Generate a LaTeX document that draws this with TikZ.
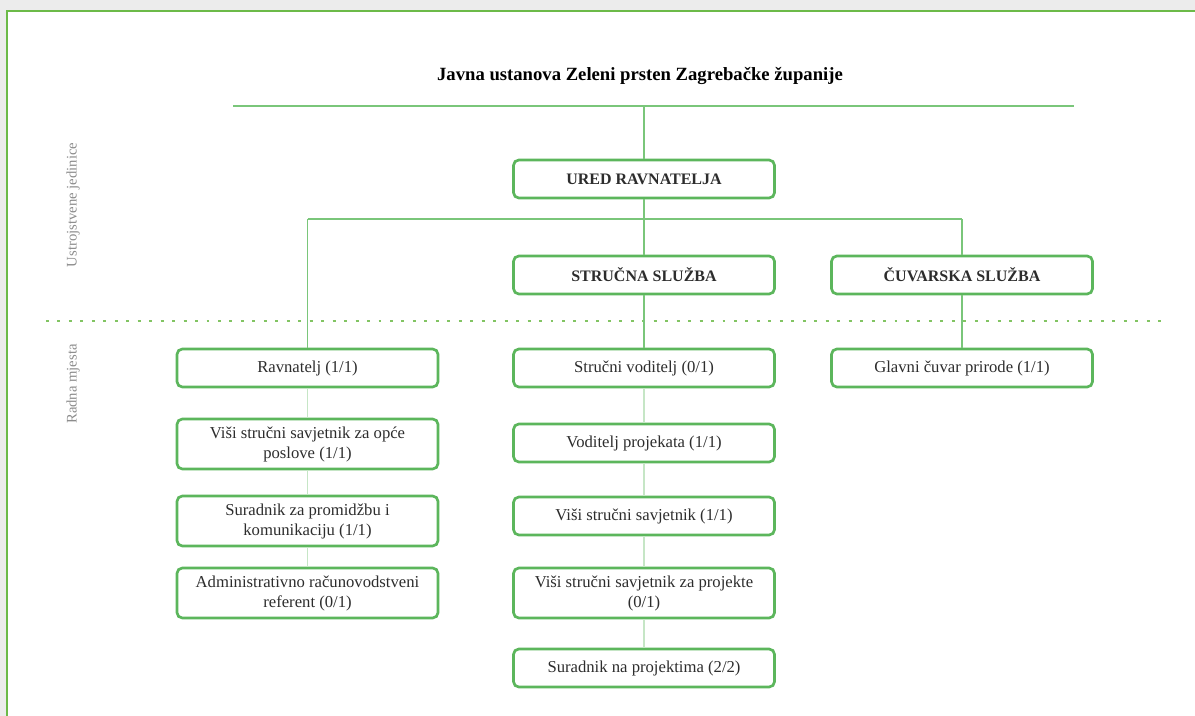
\documentclass[tikz,border=0pt]{standalone}
\usepackage{fontspec}
\setmainfont{Liberation Serif}

\definecolor{framegreen}{RGB}{108,186,72}
\definecolor{boxgreen}{RGB}{92,182,92}
\definecolor{linegreen}{RGB}{122,198,122}
\definecolor{palegreen}{RGB}{198,230,198}
\definecolor{labelgray}{RGB}{140,140,140}
\definecolor{bggray}{RGB}{236,236,236}
\definecolor{textgray}{RGB}{45,45,45}

\newcommand*\unitwidth{195.75pt}
\newcommand*\rowheight{28.5pt}
\tikzset{orgunit/.style={
    draw=boxgreen,
    line width=2pt,
    rectangle,
    rounded corners=4pt,
    fill=white,
    text=textgray,
    inner sep=0pt,
    minimum width=\unitwidth,
    minimum height=\rowheight,
    align=center,
    font=\fontsize{12}{15}\selectfont\bfseries
},
jobpost/.style={
    orgunit,
    minimum height=#1,
    font=\fontsize{12.5}{15}\selectfont
},
jobpost/.default=\rowheight,
busline/.style={draw=linegreen, line width=0.9pt},
stackline/.style={draw=palegreen, line width=0.9pt},
separator/.style={draw=framegreen!85, line width=1.5pt, dash pattern=on 2.2pt off 6.4pt},
sidelabel/.style={rotate=90, text=labelgray, font=\fontsize{11}{13}\selectfont}
}

\begin{document}
\begin{tikzpicture}[x=0.75pt,y=-0.75pt]

    % Page and frame, only top and left edges show.
    \useasboundingbox (0,0) rectangle (1195,716);
    \fill[bggray] (0,0) rectangle (1195,716);
    \fill[white] (7,11) rectangle (1195,716);
    \draw[framegreen, line width=1.9pt] (7,716) -- (7,11) -- (1195,11);

    % Title and the line under it.
    \node[font=\fontsize{14}{17}\selectfont\bfseries] (title) at (640,76) {Javna ustanova Zeleni prsten Zagrebačke županije};
    \coordinate (topL) at (233,106);
    \coordinate (topR) at (1074,106);
    \draw[busline] (topL) -- (topR);

    % Row labels on the left.
    \node[sidelabel] (unitslabel) at (73,205) {Ustrojstvene jedinice};
    \node[sidelabel] (postslabel) at (73,384) {Radna mjesta};

    % Dotted divider between units and posts.
    \coordinate (sepL) at (46,321);
    \coordinate (sepR) at (1167,321);
    \draw[separator] (sepL) -- (sepR);

    % Units.
    \node[orgunit] (ured) at (644,179) {URED RAVNATELJA};
    \node[orgunit] (strucna) at (644,275) {STRUČNA SLUŽBA};
    \node[orgunit] (cuvarska) at (962,275) {ČUVARSKA SLUŽBA};

    % Posts, left column.
    \node[jobpost] (ravnatelj) at (307.5,368) {Ravnatelj (1/1)};
    \node[jobpost=37.5pt] (visiopce) at (307.5,444) {Viši stručni savjetnik za opće\\poslove (1/1)};
    \node[jobpost=37.5pt] (promidzba) at (307.5,521) {Suradnik za promidžbu i\\komunikaciju (1/1)};
    \node[jobpost=37.5pt] (admin) at (307.5,593) {Administrativno računovodstveni\\referent (0/1)};

    % Posts, middle column.
    \node[jobpost] (strvoditelj) at (644,368) {Stručni voditelj (0/1)};
    \node[jobpost] (vodproj) at (644,443) {Voditelj projekata (1/1)};
    \node[jobpost] (visisav) at (644,516) {Viši stručni savjetnik (1/1)};
    \node[jobpost=37.5pt] (visiproj) at (644,593) {Viši stručni savjetnik za projekte\\(0/1)};
    \node[jobpost] (suradproj) at (644,668) {Suradnik na projektima (2/2)};

    % Posts, right column.
    \node[jobpost] (glavni) at (962,368) {Glavni čuvar prirode (1/1)};

    % Connectors from the title down to the units.
    \coordinate (bus) at (0,219);
    \draw[busline] (ured.north) -- (ured.north |- topL);
    \draw[busline] (ured) -- (strucna);
    \draw[busline] (ravnatelj.north |- bus) -- (cuvarska.north |- bus);
    \draw[busline] (ravnatelj) -- (ravnatelj.north |- bus);
    \draw[busline] (cuvarska) -- (cuvarska.north |- bus);
    \draw[busline] (strucna) -- (strvoditelj);
    \draw[busline] (cuvarska) -- (glavni);

    % Pale links inside each column.
    \foreach \upper/\lower in {ravnatelj/visiopce,visiopce/promidzba,promidzba/admin,strvoditelj/vodproj,vodproj/visisav,visisav/visiproj,visiproj/suradproj}
        \draw[stackline] (\upper) -- (\lower);

\end{tikzpicture}
\end{document}
